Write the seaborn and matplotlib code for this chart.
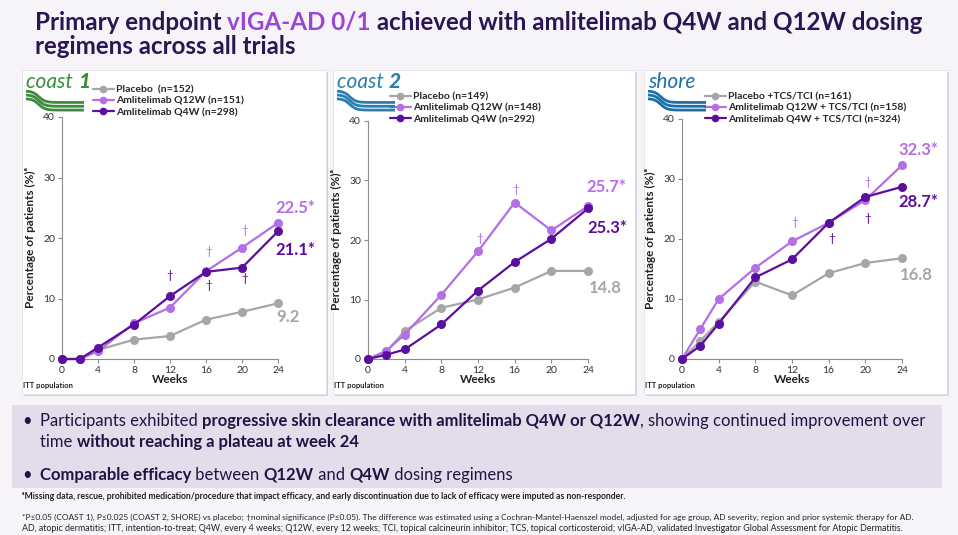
import numpy as np
import pandas as pd
import seaborn as sns
import matplotlib
matplotlib.use("Agg")
import matplotlib.pyplot as plt
from matplotlib.lines import Line2D
from matplotlib.patches import Rectangle

# Datos (porcentaje de pacientes con vIGA-AD 0/1)
weeks = [0, 2, 4, 8, 12, 16, 20, 24]

coast1_placebo = [0, 0, 1.5, 3.2, 3.8, 6.5, 7.8, 9.2]
coast1_q12w = [0, 0, 1.3, 5.9, 8.5, 14.5, 18.4, 22.5]
coast1_q4w = [0, 0, 1.9, 5.7, 10.4, 14.4, 15.1, 21.1]

coast2_placebo = [0, 1.2, 4.7, 8.6, 10.0, 12.0, 14.8, 14.8]
coast2_q12w = [0, 1.4, 4.1, 10.8, 18.1, 26.3, 21.6, 25.7]
coast2_q4w = [0, 0.7, 1.6, 5.8, 11.5, 16.3, 20.2, 25.3]

shore_placebo = [0, 3.0, 6.2, 12.9, 10.6, 14.3, 16.0, 16.8]
shore_q12w = [0, 5.0, 10.0, 15.2, 19.6, 22.7, 26.5, 32.3]
shore_q4w = [0, 2.2, 5.9, 13.6, 16.6, 22.7, 27.0, 28.7]

coast1_labels = ["Placebo  (n=152)", "Amlitelimab Q12W (n=151)", "Amlitelimab Q4W (n=298)"]
coast2_labels = ["Placebo (n=149)", "Amlitelimab Q12W (n=148)", "Amlitelimab Q4W (n=292)"]
shore_labels = ["Placebo +TCS/TCI (n=161)", "Amlitelimab Q12W + TCS/TCI (n=158)",
                "Amlitelimab Q4W + TCS/TCI (n=324)"]

xticks = [0, 4, 8, 12, 16, 20, 24]
yticks = [0, 10, 20, 30, 40]

GREY = "#a6a6a6"
LIGHT = "#b46ee6"
DARK = "#5c0e9e"
TITLE = "#2b1653"
TEXT = "#1f1545"

sns.set_theme(style="white")
plt.rcParams["font.family"] = ["Lato", "DejaVu Sans"]

W, H = 958, 535
fig = plt.figure(figsize=(W / 100, H / 100), dpi=100, facecolor="#f6f4f9")
renderer = fig.canvas.get_renderer()


def fx(px):
    return px / W


def fy(py):
    return 1 - py / H


def rich_line(x, y, pieces, size, color, width=None):
    # ajusta el tamano para que la linea ocupe el ancho indicado
    if width is not None:
        total = 0
        for txt, bold in pieces:
            t = fig.text(0, 0, txt, fontsize=10, fontweight="bold" if bold else "normal")
            total += t.get_window_extent(renderer).width
            t.remove()
        size = 10 * width / total
    out = []
    for txt, bold in pieces:
        t = fig.text(fx(x), fy(y), txt, fontsize=size, color=color, va="baseline",
                     fontweight="bold" if bold else "normal")
        x += t.get_window_extent(renderer).width
        out.append(t)
    return size, out


# Titulo
size, parts = rich_line(35, 30, [("Primary endpoint ", True), ("vIGA-AD 0/1", True),
                                 (" achieved with amlitelimab Q4W and Q12W dosing", True)],
                        15, TITLE, width=887)
parts[1].set_color("#9b45d6")
rich_line(35, 54, [("regimens across all trials", True)], size, TITLE)

panels = [
    dict(box=(22, 326), ax=(62, 278, 117), logo=("coast ", "1"), logo_color="#3d8b3d",
         legend=(93, 85), labels=coast1_labels,
         values=[coast1_placebo, coast1_q12w, coast1_q4w],
         ends=[(25.1, 6.9, "9.2"), (25.9, 25.0, "22.5*"), (25.9, 18.0, "21.1*")],
         daggers=[(12, 13.8, DARK), (16.3, 17.8, LIGHT), (16.3, 12.2, DARK),
                  (20.3, 21.3, LIGHT), (20.3, 13.3, DARK)]),
    dict(box=(333, 635), ax=(368, 588, 121), logo=("coast ", "2"), logo_color="#2a7fb0",
         legend=(390, 92), labels=coast2_labels,
         values=[coast2_placebo, coast2_q12w, coast2_q4w],
         ends=[(25.9, 11.9, "14.8"), (26.0, 28.9, "25.7*"), (26.1, 22.0, "25.3*")],
         daggers=[(12.2, 20.3, LIGHT), (16.1, 28.5, LIGHT)]),
    dict(box=(644, 947), ax=(682, 902, 119), logo=("shore", ""), logo_color="#1f6fa8",
         legend=(705, 92), labels=shore_labels,
         values=[shore_placebo, shore_q12w, shore_q4w],
         ends=[(25.6, 14.0, "16.8"), (25.8, 34.8, "32.3*"), (25.8, 26.2, "28.7*")],
         daggers=[(12.3, 22.8, LIGHT), (16.3, 20.0, DARK), (20.3, 29.5, LIGHT),
                  (20.3, 23.5, DARK)]),
]

colors = [GREY, LIGHT, DARK]
bottom_px = 359

for p in panels:
    bx0, bx1 = p["box"]
    # sombra y recuadro blanco del panel
    fig.patches.append(Rectangle((fx(bx0 + 2), fy(396)), fx(bx1 - bx0), (396 - 72) / H,
                                 transform=fig.transFigure, facecolor="#d4d2d8",
                                 edgecolor="none", zorder=-3))
    fig.patches.append(Rectangle((fx(bx0), fy(394)), fx(bx1 - bx0), (394 - 70) / H,
                                 transform=fig.transFigure, facecolor="white",
                                 edgecolor="#e2e0e6", lw=0.6, zorder=-2))

    l, r, t = p["ax"]
    ax = fig.add_axes([fx(l), fy(bottom_px), fx(r - l), (bottom_px - t) / H])
    ax.set_facecolor("none")

    df = pd.DataFrame({
        "week": weeks * 3,
        "pct": sum(p["values"], []),
        "arm": sum([[lab] * len(weeks) for lab in p["labels"]], []),
    })
    sns.lineplot(data=df, x="week", y="pct", hue="arm", hue_order=p["labels"],
                 palette=colors, marker="o", markersize=6.5, markeredgewidth=0,
                 linewidth=1.6, errorbar=None, legend=False, ax=ax, clip_on=False,
                 zorder=3)

    ax.set_xlim(0, 24)
    ax.set_ylim(0, 40)
    ax.set_xticks(xticks)
    ax.set_yticks(yticks)
    sns.despine(ax=ax)
    for s in ["left", "bottom"]:
        ax.spines[s].set_color("#8c8c8c")
        ax.spines[s].set_linewidth(0.8)
    ax.tick_params(direction="out", length=3, width=0.8, color="#8c8c8c",
                   labelsize=7.5, labelcolor="#333333", pad=2,
                   bottom=True, left=True)
    ax.set_xlabel("Weeks", fontsize=8.5, fontweight="bold", color="#222222", labelpad=-1)
    ax.set_ylabel("Percentage of patients (%)ᵃ", fontsize=8.5, fontweight="bold",
                  color="#222222", labelpad=5)

    for (xe, ye, txt), c in zip(p["ends"], colors):
        ax.text(xe, ye, txt, color=c, fontsize=12, fontweight="bold",
                ha="center", va="center", clip_on=False)
    for xd, yd, c in p["daggers"]:
        ax.text(xd, yd, "†", color=c, fontsize=8.5, ha="center", va="center")

    handles = [Line2D([0], [0], color=c, lw=1.6, marker="o", markersize=5.5,
                      markeredgewidth=0) for c in colors]
    lx, ly = p["legend"]
    ax.legend(handles, p["labels"], loc="upper left", bbox_to_anchor=(fx(lx), fy(ly)),
              bbox_transform=fig.transFigure, frameon=False,
              prop={"size": 7.5, "weight": "bold"}, handlelength=2.0,
              handletextpad=0.2, labelspacing=0.2, borderpad=0, borderaxespad=0)

    fig.text(fx(bx0 + 1), fy(388), "ITT population", fontsize=5.5, fontweight="bold",
             color="#222222", va="baseline")

    # logo del ensayo
    word, num = p["logo"]
    lt = fig.text(fx(bx0 + 4), fy(88), word, fontsize=15, style="italic",
                  color=p["logo_color"], va="baseline")
    if num:
        nx = bx0 + 4 + lt.get_window_extent(renderer).width
        fig.text(fx(nx), fy(88), num, fontsize=15, style="italic", fontweight="black",
                 color=p["logo_color"], va="baseline")
    wax = fig.add_axes([fx(bx0 + 4), fy(112), fx(58), 22 / H])
    wax.axis("off")
    xs = np.linspace(0, 1, 60)
    for k in range(3):
        wax.plot(xs, 0.1 + k * 0.2 + 0.6 * (1 - np.tanh((xs - 0.22) * 9)) / 2,
                 color=p["logo_color"], lw=2.0, solid_capstyle="butt")
    wax.set_xlim(0, 1)
    wax.set_ylim(0, 1.15)

# Caja de conclusiones
fig.patches.append(Rectangle((fx(12), fy(488)), fx(930), 83 / H,
                             transform=fig.transFigure, facecolor="#e3ddeb",
                             edgecolor="none", zorder=-2))
fig.text(fx(22), fy(426), "•", fontsize=12, color=TEXT, va="baseline")
bsize, _ = rich_line(40, 426, [("Participants exhibited ", False),
                               ("progressive skin clearance with amlitelimab Q4W or Q12W", True),
                               (", showing continued improvement over", False)],
                     12, TEXT, width=888)
rich_line(40, 447, [("time ", False), ("without reaching a plateau at week 24", True)],
          bsize, TEXT)
fig.text(fx(22), fy(480), "•", fontsize=12, color=TEXT, va="baseline")
rich_line(40, 480, [("Comparable efficacy", True), (" between ", False), ("Q12W", True),
                    (" and ", False), ("Q4W", True), (" dosing regimens", False)],
          bsize, TEXT)

# Notas al pie
rich_line(22, 499, [("ᵃMissing data, rescue, prohibited medication/procedure that impact "
                     "efficacy, and early discontinuation due to lack of efficacy were "
                     "imputed as non-responder.", True)], 5, "#222222", width=610)
rich_line(22, 520, [("*P≤0.05 (COAST 1), P≤0.025 (COAST 2, SHORE) vs placebo; †nominal "
                     "significance (P≤0.05). The difference was estimated using a "
                     "Cochran-Mantel-Haenszel model, adjusted for age group, AD severity, "
                     "region and prior systemic therapy for AD.", False)], 5, "#222222",
          width=890)
rich_line(22, 531, [("AD, atopic dermatitis; ITT, intention-to-treat; Q4W, every 4 weeks; "
                     "Q12W, every 12 weeks; TCI, topical calcineurin inhibitor; TCS, topical "
                     "corticosteroid; vIGA-AD, validated Investigator Global Assessment for "
                     "Atopic Dermatitis.", False)], 5, "#222222", width=880)

fig.savefig("out.png", dpi=100, facecolor=fig.get_facecolor())
